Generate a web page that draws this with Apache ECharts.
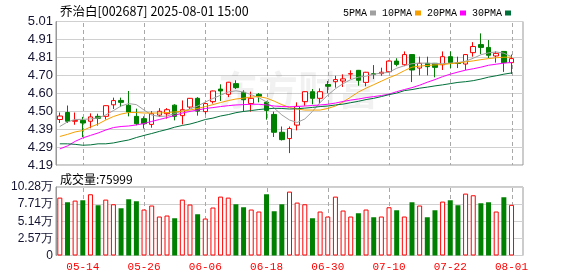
<!DOCTYPE html>
<html><head><meta charset="utf-8">
<script src="https://cdn.jsdelivr.net/npm/echarts@6/dist/echarts.min.js"></script>
<style>html,body{margin:0;padding:0;background:#fff}#c{width:578px;height:276px}</style>
</head><body><div id="c"></div>
<script>
const stockName = '乔治白', stockCode = '002687', stamp = '2025-08-01 15:00';
const lastVolume = 75999;
const dates = ['05-09','05-12','05-13','05-14','05-15','05-16','05-19','05-20','05-21','05-22','05-23','05-26','05-27','05-28','05-29','05-30',
 '06-03','06-04','06-05','06-06','06-09','06-10','06-11','06-12','06-13','06-16','06-17','06-18','06-19','06-20','06-23','06-24','06-25','06-26','06-27','06-30',
 '07-01','07-02','07-03','07-04','07-07','07-08','07-09','07-10','07-11','07-14','07-15','07-16','07-17','07-18','07-21','07-22','07-23','07-24','07-25','07-28','07-29','07-30','07-31','08-01'];
const opens = [4.45,4.49,4.44,4.445,4.44,4.468,4.468,4.534,4.559,4.531,
 4.468,4.455,4.422,4.475,4.483,4.532,4.472,4.521,4.571,4.495,
 4.552,4.624,4.594,4.655,4.605,4.541,4.594,4.548,4.479,4.377,
 4.341,4.418,4.552,4.609,4.571,4.65,4.666,4.67,4.71,4.731,
 4.662,4.712,4.712,4.723,4.784,4.763,4.821,4.744,4.771,4.771,
 4.763,4.809,4.773,4.767,4.832,4.878,4.862,4.813,4.839,4.775];
const closes = [4.47,4.44,4.445,4.43,4.465,4.457,4.529,4.558,4.548,4.493,
 4.426,4.426,4.483,4.497,4.506,4.468,4.506,4.571,4.498,4.541,
 4.613,4.613,4.663,4.632,4.563,4.571,4.583,4.502,4.377,4.335,
 4.398,4.525,4.609,4.571,4.609,4.64,4.678,4.682,4.712,4.674,
 4.72,4.708,4.72,4.784,4.765,4.821,4.733,4.771,4.752,4.748,
 4.809,4.775,4.77,4.821,4.867,4.862,4.817,4.828,4.775,4.798];
const lows = [4.43,4.43,4.42,4.35,4.40,4.415,4.45,4.51,4.521,4.468,
 4.417,4.398,4.403,4.464,4.455,4.445,4.422,4.51,4.472,4.48,
 4.541,4.556,4.578,4.624,4.495,4.495,4.548,4.449,4.35,4.33,
 4.258,4.388,4.529,4.537,4.541,4.60,4.632,4.636,4.681,4.643,
 4.64,4.681,4.70,4.72,4.754,4.755,4.664,4.702,4.702,4.691,
 4.733,4.744,4.744,4.733,4.809,4.824,4.801,4.775,4.722,4.71];
const highs = [4.49,4.53,4.49,4.465,4.485,4.483,4.531,4.575,4.575,4.613,
 4.512,4.468,4.498,4.515,4.515,4.537,4.559,4.573,4.578,4.544,
 4.615,4.651,4.665,4.674,4.617,4.609,4.601,4.555,4.495,4.41,
 4.41,4.548,4.611,4.624,4.628,4.67,4.70,4.708,4.731,4.733,
 4.722,4.761,4.746,4.788,4.80,4.839,4.823,4.809,4.809,4.773,
 4.839,4.839,4.809,4.823,4.892,4.942,4.904,4.839,4.841,4.821];
const ma5 = [4.410,4.436,4.450,4.451,4.453,4.459,4.476,4.501,4.527,4.541,
 4.535,4.504,4.476,4.467,4.470,4.484,4.498,4.510,4.527,4.550,
 4.570,4.589,4.607,4.614,4.607,4.592,4.575,4.550,4.515,4.476,
 4.447,4.433,4.453,4.496,4.547,4.589,4.626,4.655,4.678,4.692,
 4.698,4.709,4.715,4.720,4.743,4.757,4.769,4.772,4.772,4.770,
 4.769,4.772,4.775,4.783,4.800,4.820,4.831,4.836,4.829,4.809];
const ma10 = [4.353,4.365,4.379,4.387,4.407,4.424,4.447,4.467,4.481,4.490,
 4.490,4.487,4.487,4.487,4.490,4.493,4.498,4.504,4.513,4.524,
 4.535,4.547,4.558,4.567,4.572,4.578,4.581,4.572,4.555,4.535,
 4.518,4.510,4.504,4.504,4.504,4.513,4.527,4.550,4.578,4.607,
 4.629,4.649,4.669,4.689,4.706,4.729,4.749,4.755,4.759,4.762,
 4.764,4.769,4.773,4.779,4.785,4.792,4.798,4.803,4.806,4.806];
const ma20 = [4.282,4.299,4.325,4.345,4.359,4.373,4.390,4.404,4.410,4.413,
 4.419,4.427,4.439,4.450,4.461,4.473,4.487,4.496,4.504,4.513,
 4.518,4.524,4.529,4.533,4.535,4.537,4.537,4.533,4.527,4.524,
 4.523,4.524,4.527,4.530,4.533,4.537,4.544,4.553,4.561,4.567,
 4.575,4.581,4.587,4.595,4.609,4.621,4.632,4.646,4.663,4.678,
 4.695,4.709,4.721,4.732,4.740,4.749,4.760,4.766,4.772,4.776];
const ma30 = [4.311,4.311,4.308,4.303,4.305,4.311,4.311,4.316,4.325,4.333,
 4.347,4.359,4.370,4.382,4.393,4.406,4.416,4.424,4.436,4.450,
 4.458,4.470,4.478,4.489,4.496,4.501,4.507,4.511,4.514,4.513,
 4.510,4.511,4.515,4.519,4.524,4.527,4.533,4.538,4.546,4.554,
 4.564,4.571,4.581,4.592,4.601,4.615,4.621,4.629,4.635,4.642,
 4.648,4.655,4.662,4.666,4.672,4.681,4.692,4.700,4.709,4.716];
const volumes = [86900,79900,82400,82900,91900,75400,83900,76900,70900,84400,
 81400,69000,75000,58500,60000,55900,83900,76500,61900,55500,
 72000,88400,86900,76900,72400,69000,66000,91900,66400,76900,
 95900,79400,76900,55900,66000,58500,88400,67500,58500,63400,
 69000,57400,58500,72400,67900,58500,79900,75000,57400,67900,
 80900,82900,75400,92900,90400,78400,79900,66000,87400,75999];
const volUp = [1,0,1,0,1,0,1,1,0,0,
 0,1,1,1,1,0,1,1,0,1,
 1,1,1,0,0,1,1,0,0,0,
 1,1,1,0,1,1,1,1,1,0,
 1,0,1,1,0,1,0,1,0,0,
 1,0,0,1,1,0,0,1,0,1];
const priceTickLabels = ['4.19','4.29','4.39','4.50','4.60','4.70','4.81','4.91','5.01'];
const volTickLabels = ['0','2.57万','5.14万','7.71万','10.28万'];
const axisDateLabels = ['05-14','05-26','06-06','06-18','06-30','07-10','07-22','08-01'];
const maNames = ['5PMA','10PMA','20PMA','30PMA'];

const RED = '#ff0000', GREEN = '#008000';
const MA_COLORS = ['#a0a0a0','#f5a000','#ff00ff','#00703a'];
const PMIN = 4.19, PMAX = 5.01, PSTEP = 0.1025;
const VMAX = 102800, VSTEP = 25700;
const gridL = 56, gridW = 467;
const GUIDE = '#a8a8a8';

const cats = dates.concat(['']);
const labelIdx = axisDateLabels.map(d => dates.indexOf(d));
const isLabelIdx = (i) => labelIdx.indexOf(Number(i)) >= 0;
const candleData = dates.map((d, i) => [opens[i], closes[i], lows[i], highs[i]]);
const volData = volumes.map((v, i) => ({
  value: v,
  itemStyle: volUp[i] ? {color: '#ffffff', borderColor: RED, borderWidth: 1}
                      : {color: GREEN, borderColor: GREEN, borderWidth: 0}
}));
// vertical dashed guides at the labelled dates; x comes from the category axis
function guideSeries(xi, yi, yMin, yMax) {
  return {
    type: 'custom', xAxisIndex: xi, yAxisIndex: yi, z: 2, silent: true, clip: false,
    data: labelIdx.map(i => [i, yMin, yMax]),
    encode: {x: 0, y: [1, 2]},
    renderItem: (params, api) => {
      const pTop = api.coord([api.value(0), api.value(2)]);
      const pBot = api.coord([api.value(0), api.value(1)]);
      const x = Math.round(pTop[0]);
      const y0 = Math.round(Math.min(pTop[1], pBot[1]));
      const y1 = Math.round(Math.max(pTop[1], pBot[1]));
      const segs = [];
      for (let y = y0 + 1; y < y1; y += 7) {
        segs.push({type: 'rect', shape: {x: x, y: y, width: 1, height: Math.min(4, y1 - y)},
                   style: {fill: GUIDE}});
      }
      return {type: 'group', children: segs};
    }
  };
}
const priceFont = {fontFamily: 'Liberation Sans', fontSize: 13, color: '#141432'};
const volFont = {fontFamily: 'Liberation Sans', fontSize: 12, color: '#141432'};

const chart = echarts.init(document.getElementById('c'));
chart.setOption({
  animation: false,
  backgroundColor: '#ffffff',
  title: [
    {text: stockName + '[' + stockCode + '] ' + stamp, left: 55, top: 0,
     textStyle: {fontSize: 12.5, fontWeight: 'normal', color: '#000', fontFamily: 'Noto Sans CJK SC'}},
    {text: '成交量:' + lastVolume, left: 55, top: 168,
     textStyle: {fontSize: 12, fontWeight: 'normal', color: '#000', fontFamily: 'Noto Sans CJK SC'}}
  ],
  legend: {
    data: maNames, left: 338, top: 3, align: 'right', icon: 'rect',
    itemWidth: 6, itemHeight: 5, itemGap: 6,
    textStyle: {fontFamily: 'Liberation Mono', fontSize: 10, color: '#000', padding: [0, -2, 0, 0]},
    selectedMode: false
  },
  graphic: [{
    type: 'text', left: 218, top: 70, z: 1, silent: true,
    style: {text: '东方财富', font: 'bold 40px "Noto Sans CJK SC"', fill: 'rgba(0,0,0,0.055)'}
  }],
  grid: [
    {left: gridL, top: 21.5, width: gridW, height: 143.5, show: true, borderColor: '#999', borderWidth: 1, backgroundColor: 'transparent'},
    {left: gridL, top: 187, width: gridW, height: 68.5, show: true, borderColor: '#999', borderWidth: 1, backgroundColor: 'transparent'}
  ],
  xAxis: [
    {type: 'category', data: cats, gridIndex: 0, boundaryGap: true,
     axisLine: {show: false}, axisTick: {show: false}, axisLabel: {show: false}, splitLine: {show: false}},
    {type: 'category', data: cats, gridIndex: 1, boundaryGap: true,
     axisLine: {show: false}, axisTick: {show: false}, splitLine: {show: false},
     axisLabel: {show: true, interval: isLabelIdx, color: RED,
                 fontFamily: 'Liberation Mono', fontSize: 11, margin: 6, hideOverlap: false}}
  ],
  yAxis: [
    {type: 'value', gridIndex: 0, min: PMIN, max: PMAX, interval: PSTEP, scale: true,
     axisLine: {show: true, lineStyle: {color: '#999'}}, axisTick: {show: false},
     axisLabel: Object.assign({margin: 3, formatter: v => priceTickLabels[Math.round((v - PMIN) / PSTEP)] || ''}, priceFont),
     splitLine: {show: true, lineStyle: {color: '#d0d0d0', width: 1}}},
    {type: 'value', gridIndex: 1, min: 0, max: VMAX, interval: VSTEP,
     axisLine: {show: true, lineStyle: {color: '#999'}}, axisTick: {show: false},
     axisLabel: Object.assign({margin: 3, formatter: v => volTickLabels[Math.round(v / VSTEP)] || ''}, volFont),
     splitLine: {show: true, lineStyle: {color: '#d0d0d0', width: 1}}}
  ],
  series: [
    guideSeries(0, 0, PMIN, PMAX),
    guideSeries(1, 1, 0, VMAX),
    {type: 'candlestick', name: 'K', xAxisIndex: 0, yAxisIndex: 0, data: candleData, barWidth: 5, z: 3,
     itemStyle: {color: '#ffffff', color0: GREEN, borderColor: RED, borderColor0: GREEN, borderWidth: 1}},
    ...[ma5, ma10, ma20, ma30].map((arr, k) => ({
      type: 'line', name: maNames[k], xAxisIndex: 0, yAxisIndex: 0, data: arr, z: 4,
      showSymbol: false, symbol: 'none', color: MA_COLORS[k],
      lineStyle: {color: MA_COLORS[k], width: 1}, itemStyle: {color: MA_COLORS[k]}
    })),
    {type: 'bar', name: 'VOL', xAxisIndex: 1, yAxisIndex: 1, data: volData, barWidth: 5, z: 3}
  ]
});
</script></body></html>
